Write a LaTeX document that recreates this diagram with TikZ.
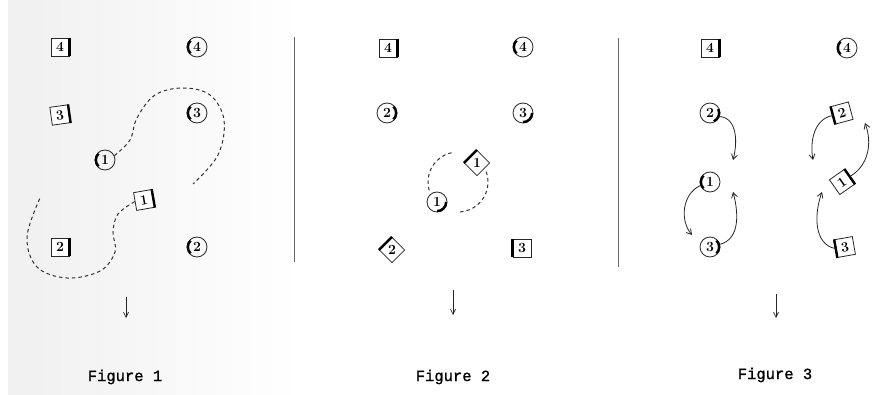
\documentclass[tikz,border=0pt]{standalone}
\usepackage{fontspec}
\newfontfamily\capfont[FakeBold=1.2]{Liberation Mono}
\usetikzlibrary{arrows.meta,calc,shapes.geometric}
\tikzset{
  tokc/.style={circle,draw=black!85,line width=0.8pt,minimum size=20pt,inner sep=0pt,font=\bfseries\fontsize{14}{14}\selectfont},
  toks/.style={rectangle,draw=black!85,line width=0.8pt,minimum size=18pt,inner sep=0pt,font=\bfseries\fontsize{14}{14}\selectfont,fill=white},
  tokd/.style={diamond,aspect=1,draw=black!85,line width=0.8pt,minimum size=25.5pt,inner sep=0pt,font=\bfseries\fontsize{14}{14}\selectfont,fill=white},
  heavy/.style={line width=2.4pt,black},
  dashcurve/.style={dashed,dash pattern=on 3.5pt off 3pt,line width=1pt,black!80},
  turnarrow/.style={line width=0.8pt,black!85,-{Straight Barb[length=5pt,width=6pt]}},
  downarrow/.style={line width=0.7pt,black!85,-{Straight Barb[length=5pt,width=5pt]}},
  divider/.style={line width=1pt,black!60},
  caption/.style={font=\capfont\fontsize{15.5}{15.5}\selectfont}
}
% circle token: name, position, label, heavy side angle
\newcommand\ctok[4]{%
  \node[tokc] (#1) at (#2) {#3};
  \draw[heavy] ($(#1.center)+({#4-45}:9.1pt)$) arc[start angle={#4-45},end angle={#4+45},radius=9.1pt];}
% square token: name, position, label, rotation, heavy edge anchors
\newcommand\stok[6]{%
  \node[toks,rotate=#4] (#1) at (#2) {#3};
  \draw[heavy,line cap=butt] (#1.#5) -- (#1.#6);}
% diamond token (upright label): name, position, label
\newcommand\dtok[3]{%
  \node[tokd] (#1) at (#2) {#3};
  \draw[heavy,line cap=butt] (#1.west) -- (#1.north);}
\begin{document}
\begin{tikzpicture}[x=1pt,y=1pt]
\useasboundingbox (0,0) rectangle (872,394);
\shade[left color=black!6,right color=white] (8,0) rectangle (300,394);
% ---------- Figure 1 ----------
\stok{aS4}{60,347}{4}{0}{north east}{south east}
\ctok{aC4}{197,347}{4}{180}
\stok{aS3}{60,279}{3}{8}{north east}{south east}
\ctok{aC3}{197,281}{3}{180}
\ctok{aC1}{105,234}{1}{180}
\stok{aS1}{144,194}{1}{10}{north east}{south east}
\stok{aS2}{60,147}{2}{0}{north east}{south east}
\ctok{aC2}{197,147}{2}{180}
\coordinate (aEndA) at (193,210);
\coordinate (aEndB) at (40,196);
\draw[dashcurve] plot[smooth,tension=0.6] coordinates {(aC1.25) (130,254) (137,276) (155,299) (183,306) (210,299) (224,274) (218,239) (aEndA)};
\draw[dashcurve] plot[smooth,tension=0.6] coordinates {(aS1.west) (118,180) (113,162) (115,142) (100,123) (67,116) (37,127) (27,157) (aEndB)};
\node (aArrTop) at (126,97) {};
\coordinate (aArrEnd) at (126,76);
\draw[downarrow] (aArrTop.center) -- (aArrEnd);
\node[caption] (aCap) at (125,17) {Figure 1};
% ---------- Figure 2 ----------
\coordinate (bLineTop) at (294,357);
\coordinate (bLineBot) at (294,132);
\draw[divider] (bLineTop) -- (bLineBot);
\stok{bS4}{388,346}{4}{0}{north east}{south east}
\ctok{bC4}{523,347}{4}{180}
\ctok{bC2}{387,281}{2}{0}
\ctok{bC3}{523,281}{3}{-45}
\dtok{bD1}{477,231}{1}
\ctok{bC1}{437,192}{1}{-45}
\dtok{bD2}{392,144}{2}
\stok{bS3}{522,146}{3}{0}{north west}{south west}
\coordinate (bCtr) at (458,212);
\draw[dashcurve] ($(bCtr)+(196:30)$) arc[start angle=196,end angle=99,radius=30];
\draw[dashcurve] ($(bCtr)+(20:30)$) arc[start angle=20,end angle=-86,radius=30];
\node (bArrTop) at (453,104) {};
\coordinate (bArrEnd) at (453,79);
\draw[downarrow] (bArrTop.center) -- (bArrEnd);
\node[caption] (bCap) at (453,17) {Figure 2};
% ---------- Figure 3 ----------
\coordinate (cLineTop) at (618,356);
\coordinate (cLineBot) at (618,127);
\draw[divider] (cLineTop) -- (cLineBot);
\stok{cS4}{710,346}{4}{0}{north east}{south east}
\ctok{cC4}{847,346}{4}{180}
\ctok{cC2}{710,281}{2}{-20}
\stok{cS2}{842,281}{2}{15}{north west}{south west}
\ctok{cC1}{710,212}{1}{180}
\stok{cS1}{842,212}{1}{35}{north east}{south east}
\ctok{cC3}{710,147}{3}{0}
\stok{cS3}{845,147}{3}{10}{north west}{south west}
\coordinate (cA) at (733,234);
\coordinate (cB) at (692,159);
\coordinate (cC) at (733,202);
\coordinate (cD) at (813,234);
\coordinate (cE) at (865,271);
\coordinate (cF) at (822,202);
\draw[turnarrow] (cC2.-20) to[out=-5,in=75] (cA);
\draw[turnarrow] (cC1.200) to[out=205,in=130] (cB);
\draw[turnarrow] (cC3.15) to[out=15,in=-75] (cC);
\draw[turnarrow] (cS2.west) to[out=190,in=100] (cD);
\draw[turnarrow] (cS1.east) to[out=30,in=-70] (cE);
\draw[turnarrow] (cS3.west) to[out=170,in=-110] (cF);
\node (cArrTop) at (776,100) {};
\coordinate (cArrEnd) at (776,76);
\draw[downarrow] (cArrTop.center) -- (cArrEnd);
\node[caption] (cCap) at (775,19) {Figure 3};
\end{tikzpicture}
\end{document}
